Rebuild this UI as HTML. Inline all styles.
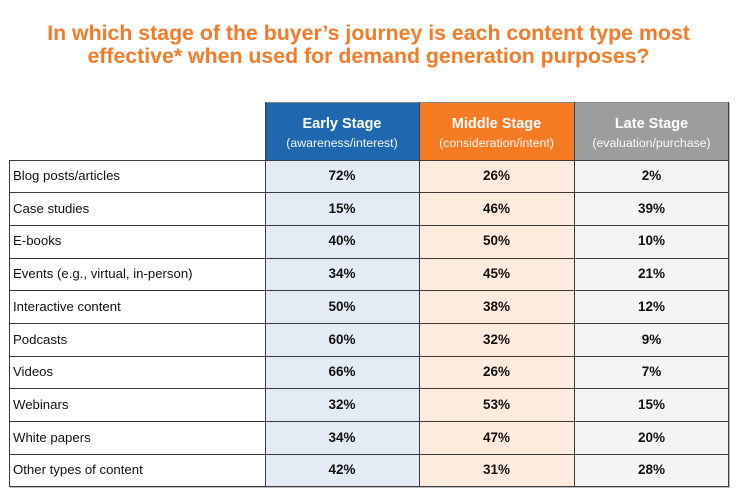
<!DOCTYPE html>
<html>
<head>
<meta charset="utf-8">
<style>
  html,body{margin:0;padding:0;background:#fff;}
  body{width:746px;height:497px;position:relative;overflow:hidden;font-family:"Liberation Sans",Arial,sans-serif;}
  .title{position:absolute;left:0;width:737px;text-align:center;color:#F47B2A;font-weight:bold;font-size:21.3px;line-height:23px;}
  .abs{position:absolute;}
  .hdr{position:absolute;top:103px;height:57px;color:#fff;text-align:center;}
  .hdr .m{position:absolute;left:0;right:0;top:12px;font-weight:bold;font-size:14.5px;line-height:18px;}
  .hdr .s{position:absolute;left:0;right:0;top:33px;font-size:12.3px;line-height:15px;opacity:0.95;}
  .lab{position:absolute;left:13px;font-size:13.2px;line-height:32.7px;color:#111;white-space:nowrap;}
  .val{position:absolute;font-size:13.5px;font-weight:bold;line-height:32.7px;color:#111;text-align:center;}
  .hl{position:absolute;height:1px;background:#3c3c3c;}
  .vl{position:absolute;width:1px;background:#3c3c3c;}
</style>
</head>
<body>
<div class="title" style="top:22px;">In which stage of the buyer’s journey is each content type most</div>
<div class="title" style="top:45px;">effective* when used for demand generation purposes?</div>

<!-- headers -->
<div class="hdr" style="left:265px;width:154px;background:#1F68AF;"><div class="m">Early Stage</div><div class="s">(awareness/interest)</div></div>
<div class="hdr" style="left:419px;width:155px;background:#F47A24;"><div class="m">Middle Stage</div><div class="s">(consideration/intent)</div></div>
<div class="hdr" style="left:574px;width:155px;background:#9D9D9D;"><div class="m">Late Stage</div><div class="s">(evaluation/purchase)</div></div>

<!-- column backgrounds -->
<div class="abs" style="left:265px;top:160px;width:154px;height:327px;background:#E3EBF5;"></div>
<div class="abs" style="left:419px;top:160px;width:155px;height:327px;background:#FDEBDD;"></div>
<div class="abs" style="left:574px;top:160px;width:155px;height:327px;background:#F4F4F4;"></div>

<!-- rows -->
<div class="lab" style="top:160px;">Blog posts/articles</div>
<div class="lab" style="top:192.7px;">Case studies</div>
<div class="lab" style="top:225.4px;">E-books</div>
<div class="lab" style="top:258.1px;">Events (e.g., virtual, in-person)</div>
<div class="lab" style="top:290.8px;">Interactive content</div>
<div class="lab" style="top:323.5px;">Podcasts</div>
<div class="lab" style="top:356.2px;">Videos</div>
<div class="lab" style="top:388.9px;">Webinars</div>
<div class="lab" style="top:421.6px;">White papers</div>
<div class="lab" style="top:454.3px;">Other types of content</div>

<!-- early -->
<div class="val" style="left:265px;width:154px;top:160px;">72%</div>
<div class="val" style="left:265px;width:154px;top:192.7px;">15%</div>
<div class="val" style="left:265px;width:154px;top:225.4px;">40%</div>
<div class="val" style="left:265px;width:154px;top:258.1px;">34%</div>
<div class="val" style="left:265px;width:154px;top:290.8px;">50%</div>
<div class="val" style="left:265px;width:154px;top:323.5px;">60%</div>
<div class="val" style="left:265px;width:154px;top:356.2px;">66%</div>
<div class="val" style="left:265px;width:154px;top:388.9px;">32%</div>
<div class="val" style="left:265px;width:154px;top:421.6px;">34%</div>
<div class="val" style="left:265px;width:154px;top:454.3px;">42%</div>
<!-- middle -->
<div class="val" style="left:419px;width:155px;top:160px;">26%</div>
<div class="val" style="left:419px;width:155px;top:192.7px;">46%</div>
<div class="val" style="left:419px;width:155px;top:225.4px;">50%</div>
<div class="val" style="left:419px;width:155px;top:258.1px;">45%</div>
<div class="val" style="left:419px;width:155px;top:290.8px;">38%</div>
<div class="val" style="left:419px;width:155px;top:323.5px;">32%</div>
<div class="val" style="left:419px;width:155px;top:356.2px;">26%</div>
<div class="val" style="left:419px;width:155px;top:388.9px;">53%</div>
<div class="val" style="left:419px;width:155px;top:421.6px;">47%</div>
<div class="val" style="left:419px;width:155px;top:454.3px;">31%</div>
<!-- late -->
<div class="val" style="left:574px;width:155px;top:160px;">2%</div>
<div class="val" style="left:574px;width:155px;top:192.7px;">39%</div>
<div class="val" style="left:574px;width:155px;top:225.4px;">10%</div>
<div class="val" style="left:574px;width:155px;top:258.1px;">21%</div>
<div class="val" style="left:574px;width:155px;top:290.8px;">12%</div>
<div class="val" style="left:574px;width:155px;top:323.5px;">9%</div>
<div class="val" style="left:574px;width:155px;top:356.2px;">7%</div>
<div class="val" style="left:574px;width:155px;top:388.9px;">15%</div>
<div class="val" style="left:574px;width:155px;top:421.6px;">20%</div>
<div class="val" style="left:574px;width:155px;top:454.3px;">28%</div>

<!-- lines -->
<div class="hl" style="left:265px;width:464px;top:102px;background:#888;"></div>
<div class="hl" style="left:9px;width:720px;top:160px;"></div>
<div class="hl" style="left:9px;width:720px;top:192px;"></div>
<div class="hl" style="left:9px;width:720px;top:225px;"></div>
<div class="hl" style="left:9px;width:720px;top:258px;"></div>
<div class="hl" style="left:9px;width:720px;top:290px;"></div>
<div class="hl" style="left:9px;width:720px;top:323px;"></div>
<div class="hl" style="left:9px;width:720px;top:356px;"></div>
<div class="hl" style="left:9px;width:720px;top:388px;"></div>
<div class="hl" style="left:9px;width:720px;top:421px;"></div>
<div class="hl" style="left:9px;width:720px;top:454px;"></div>
<div class="hl" style="left:9px;width:720px;top:486px;"></div>
<div class="hl" style="left:10px;width:720px;top:487px;background:#bbb;"></div>

<div class="vl" style="left:9px;top:160px;height:327px;"></div>
<div class="vl" style="left:265px;top:102px;height:385px;"></div>
<div class="vl" style="left:419px;top:102px;height:385px;"></div>
<div class="vl" style="left:574px;top:102px;height:385px;"></div>
<div class="vl" style="left:728px;top:102px;height:385px;"></div>
<div class="vl" style="left:729px;top:103px;height:385px;background:#bbb;"></div>
</body>
</html>
